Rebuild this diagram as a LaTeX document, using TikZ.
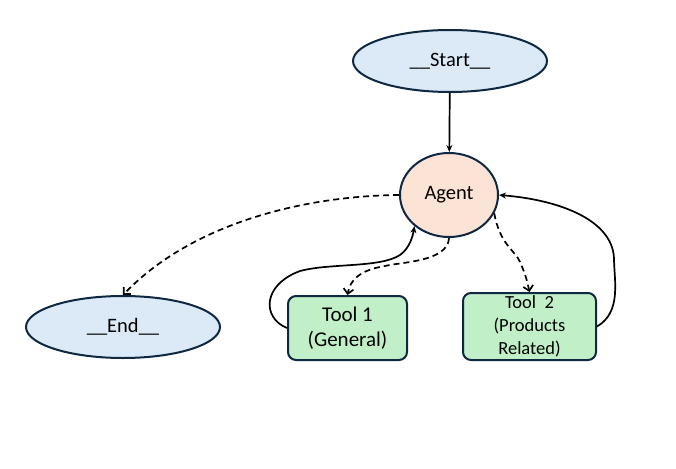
\documentclass[tikz,border=0pt]{standalone}
\usepackage{fontspec}
\setmainfont{Carlito}
\usetikzlibrary{shapes.geometric,arrows.meta}
\definecolor{bord}{HTML}{0E2841}
\definecolor{bluef}{HTML}{DCE9F6}
\definecolor{agentf}{HTML}{FBE3D6}
\definecolor{toolf}{HTML}{C1F0C8}
\tikzset{
  oval/.style={ellipse,draw=bord,line width=2pt,fill=bluef,minimum width=194pt,minimum height=62pt,inner sep=0pt,font=\fontsize{20.5}{24}\selectfont},
  agentnode/.style={ellipse,draw=bord,line width=2pt,fill=agentf,minimum width=98pt,minimum height=84pt,inner sep=0pt,font=\fontsize{20.5}{24}\selectfont},
  toolbox/.style={rectangle,rounded corners=8pt,draw=bord,line width=2pt,fill=toolf,inner sep=0pt,align=center},
  solidedge/.style={line width=1.7pt,-{Stealth[length=7pt,width=6pt]}},
  dashedge/.style={line width=1.7pt,dashed,dash pattern=on 6pt off 4pt,-{Straight Barb[length=5pt,width=10pt]}}
}
\begin{document}
\begin{tikzpicture}[x=1pt,y=-1pt]
\useasboundingbox (0,0) rectangle (676,468);
\node[oval] (start) at (450,61) {\_\_Start\_\_};
\node[agentnode] (agent) at (449,195) {Agent};
\node[oval] (end) at (123,327) {\_\_End\_\_};
\node[toolbox,minimum width=119pt,minimum height=64pt,font=\fontsize{21}{25}\selectfont] (t1) at (347.5,328) {Tool 1\\(General)};
\node[toolbox,minimum width=133pt,minimum height=67pt,font=\fontsize{18.5}{23}\selectfont] (t2) at (529.5,326.5) {Tool\ \ 2\\(Products\\Related)};
\draw[solidedge] (start) -- (agent);
\draw[dashedge] (agent.west) .. controls (300,196) and (190,225) .. (end.north);
\draw[dashedge] (agent.south) .. controls (448,262) and (400,262) .. (385,266) .. controls (360,270) and (350,280) .. (t1.north);
\draw[dashedge] (agent.-22) .. controls (500,245) and (515,250) .. (520,262) .. controls (526,275) and (528,285) .. (t2.north);
\draw[solidedge] (t1.west) .. controls (262,318) and (262,285) .. (300,271) .. controls (330,263) and (380,268) .. (400,255) .. controls (410,248) and (413,235) .. (agent.-138);
\draw[solidedge] (t2.east) .. controls (622,312) and (614,280) .. (614,258) .. controls (612,220) and (560,200) .. (agent.east);
\end{tikzpicture}
\end{document}
